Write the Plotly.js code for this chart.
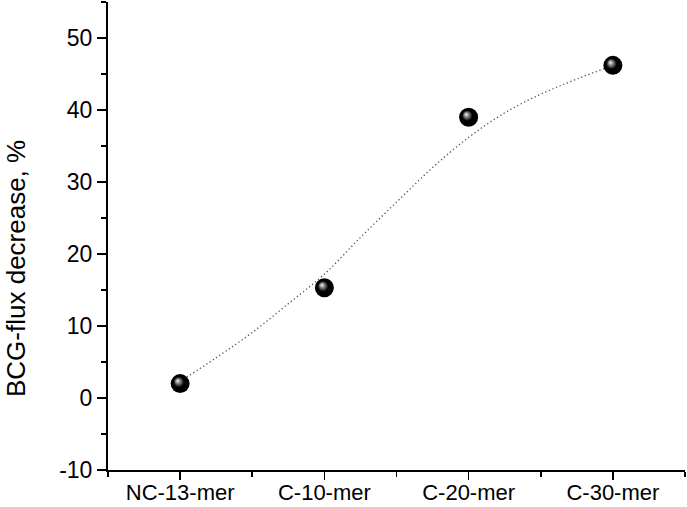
<!DOCTYPE html>
<html>
<head>
<meta charset="utf-8">
<script src="https://cdn.plot.ly/plotly-3.0.1.min.js"></script>
<style>
body { margin: 0; background: #fff; }
#chart { width: 687px; height: 507px; }
</style>
</head>
<body>
<div id="chart"></div>
<script>
var categories = ["NC-13-mer", "C-10-mer", "C-20-mer", "C-30-mer"];
var fluxDecrease = [2.0, 15.3, 39.0, 46.2];

// fitted curve at quarter-category steps
var fitX = [0, 0.25, 0.5, 0.75, 1, 1.25, 1.5, 1.75, 2, 2.25, 2.5, 2.75, 3];
var fitY = [2.3, 5.6, 9.1, 13.1, 17.2, 22.3, 27.2, 32.0, 36.2, 39.6, 42.2, 44.3, 46.2];

var yTickVals = [-10, 0, 10, 20, 30, 40, 50];
var yTickText = ["-10", "0", "10", "20", "30", "40", "50"];

function drawChart() {
    var catIndex = [];
    for (var i = 0; i < categories.length; i++) {
        catIndex.push(i);
    }

    var fitTrace = {
        x: fitX,
        y: fitY,
        mode: "lines",
        line: {color: "#555", width: 1.3, dash: "1.3px,2.6px", shape: "spline", smoothing: 1},
        hoverinfo: "none",
        type: "scatter"
    };

    var pointTrace = {
        x: catIndex,
        y: fluxDecrease,
        mode: "markers",
        marker: {
            size: 19,
            color: "#000",
            line: {width: 0},
            gradient: {type: "radial", color: "#f4f4f4"}
        },
        hoverinfo: "none",
        type: "scatter"
    };

    var layout = {
        width: 687,
        height: 507,
        margin: {l: 108, r: 2, t: 2, b: 37},
        showlegend: false,
        paper_bgcolor: "#fff",
        plot_bgcolor: "#fff",
        font: {family: "Liberation Sans, Arial, sans-serif", color: "#000", size: 23},
        xaxis: {
            range: [-0.5, 3.5],
            showgrid: false,
            zeroline: false,
            showline: true,
            linecolor: "#000",
            linewidth: 2,
            tickmode: "array",
            tickvals: catIndex,
            ticktext: categories,
            tickfont: {size: 22},
            ticks: "outside",
            ticklen: 8,
            tickwidth: 1.6,
            tickcolor: "#000",
            ticklabelstandoff: -6,
            minor: {tickmode: "array", tickvals: [-0.5, 0.5, 1.5, 2.5, 3.5], ticks: "outside", ticklen: 5, tickwidth: 1.6, tickcolor: "#000"}
        },
        yaxis: {
            range: [-10, 55],
            showgrid: false,
            zeroline: false,
            showline: true,
            linecolor: "#000",
            linewidth: 2,
            tickmode: "array",
            tickvals: yTickVals,
            ticktext: yTickText,
            ticks: "outside",
            ticklen: 9,
            tickwidth: 1.6,
            tickcolor: "#000",
            minor: {dtick: 5, ticks: "outside", ticklen: 5, tickwidth: 1.6, tickcolor: "#000"}
        },
        annotations: [{
            text: "BCG-flux decrease, %",
            textangle: -90,
            xref: "paper",
            yref: "paper",
            x: -0.159,
            y: 0.43,
            xanchor: "center",
            yanchor: "middle",
            showarrow: false,
            font: {size: 26, color: "#000"}
        }]
    };

    Plotly.newPlot("chart", [fitTrace, pointTrace], layout, {staticPlot: true}).then(function () {
        // move the highlight of the sphere markers up and to the left
        var grads = document.querySelectorAll("radialGradient");
        for (var k = 0; k < grads.length; k++) {
            grads[k].setAttribute("fx", "0.36");
            grads[k].setAttribute("fy", "0.34");
            grads[k].setAttribute("r", "0.55");
            var stops = grads[k].querySelectorAll("stop");
            if (stops.length === 2) {
                stops[1].setAttribute("offset", "0.5");
            }
        }
    });
}

drawChart();
</script>
</body>
</html>
